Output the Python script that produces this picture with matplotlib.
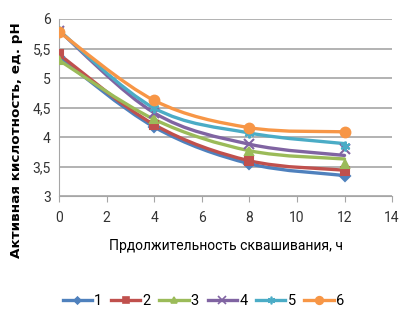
import matplotlib
matplotlib.use("Agg")
import matplotlib.pyplot as plt
from matplotlib.path import Path
from matplotlib.patches import PathPatch
from matplotlib.lines import Line2D
from matplotlib.ticker import FuncFormatter

hours = [0, 4, 8, 12]
labels = ["1", "2", "3", "4", "5", "6"]
ph_1 = [5.35, 4.17, 3.55, 3.35]
ph_2 = [5.40, 4.21, 3.60, 3.42]
ph_3 = [5.30, 4.30, 3.77, 3.55]
ph_4 = [5.80, 4.41, 3.88, 3.80]
ph_5 = [5.80, 4.49, 4.07, 3.85]
ph_6 = [5.78, 4.62, 4.16, 4.09]
series = [ph_1, ph_2, ph_3, ph_4, ph_5, ph_6]
line_ends = [3.35, 3.44, 3.63, 3.69, 3.89, 4.09]

colors = ["#4F81BD", "#C0504D", "#9BBB59", "#8064A2", "#4BACC6", "#F79646"]
markers = ["D", "s", "^", "x", (6, 2, 0), "o"]
msizes = [5, 6, 6, 7, 7, 7]

narrow = ["Roboto", "DejaVu Sans"]


def smooth_path(xs, ys):
    # excel-like smoothed line: catmull-rom turned into cubic beziers
    pts = list(zip(xs, ys))
    n = len(pts)
    verts = [pts[0]]
    codes = [Path.MOVETO]
    for i in range(n - 1):
        p0 = pts[i - 1] if i > 0 else pts[i]
        p1 = pts[i]
        p2 = pts[i + 1]
        p3 = pts[i + 2] if i + 2 < n else pts[i + 1]
        c1 = (p1[0] + (p2[0] - p0[0]) / 6, p1[1] + (p2[1] - p0[1]) / 6)
        c2 = (p2[0] - (p3[0] - p1[0]) / 6, p2[1] - (p3[1] - p1[1]) / 6)
        verts += [c1, c2, p2]
        codes += [Path.CURVE4] * 3
    return Path(verts, codes)


fig = plt.figure(figsize=(4.11, 3.27), dpi=100)
ax = fig.add_axes([0.144, 0.40, 0.81, 0.542])

for i, ys in enumerate(series):
    line_y = ys[:3] + [line_ends[i]]
    patch = PathPatch(smooth_path(hours, line_y), facecolor="none",
                      edgecolor=colors[i], lw=2.4, zorder=3 + i * 0.1,
                      capstyle="round", joinstyle="round")
    ax.add_patch(patch)
    ax.plot(hours, ys, linestyle="none", marker=markers[i], ms=msizes[i],
            color=colors[i], mec=colors[i], mew=1.5, zorder=4 + i * 0.1)

ax.set_xlim(0, 14)
ax.set_ylim(3, 6)
ax.set_xticks(range(0, 15, 2))
ax.set_yticks([3, 3.5, 4, 4.5, 5, 5.5, 6])
fmt = FuncFormatter(lambda v, p: ("%g" % v).replace(".", ","))
ax.yaxis.set_major_formatter(fmt)
ax.grid(axis="y", color="#A6A6A6", lw=1.2)
ax.set_axisbelow(True)
for s in ["top", "right"]:
    ax.spines[s].set_visible(False)
for s in ["left", "bottom"]:
    ax.spines[s].set_color("#A6A6A6")
ax.tick_params(axis="y", length=0, pad=6, labelsize=10)
ax.tick_params(axis="x", length=4, color="#A6A6A6", direction="out", pad=7, labelsize=10)
for t in ax.get_xticklabels() + ax.get_yticklabels():
    t.set_fontfamily(narrow)
    t.set_color("#333333")

ax.set_xlabel("Прдолжительность сквашивания, ч", fontsize=10, labelpad=10,
              family=narrow)
fig.text(0.041, 0.57, "Активная кислотность, ед. pH", rotation=90, ha="center",
         va="center", fontsize=9.7, fontweight="bold")

handles = [Line2D([], [], color=colors[i], lw=2.4, marker=markers[i], ms=msizes[i] - 1.5,
                  mew=1.2) for i in range(6)]
leg = fig.legend(handles, labels, loc="center", bbox_to_anchor=(0.495, 0.08), ncol=6,
                 frameon=False, handlelength=2.0, handletextpad=0.15, columnspacing=0.6,
                 prop={"family": narrow, "size": 10.5})

fig.savefig("out.png", dpi=100)
